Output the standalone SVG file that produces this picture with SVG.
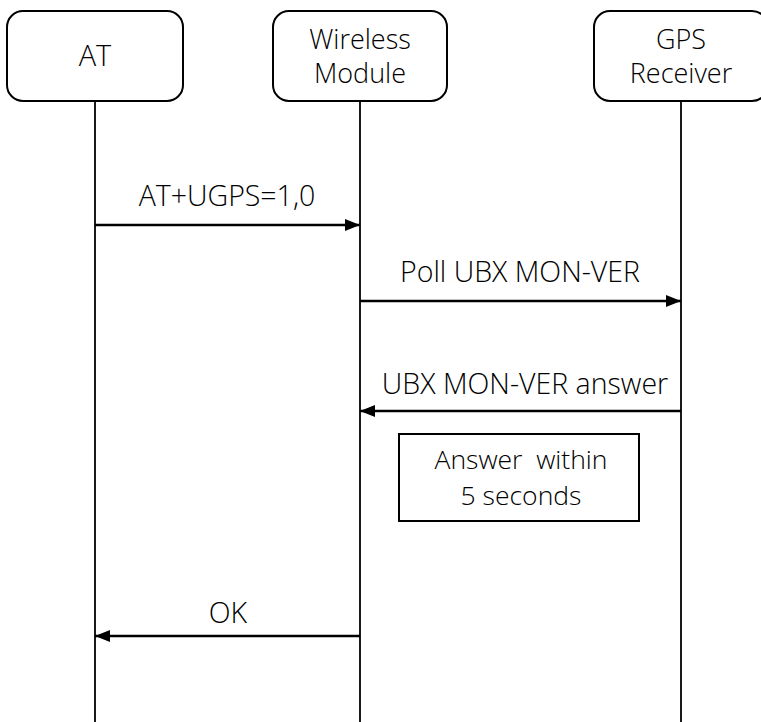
<svg xmlns="http://www.w3.org/2000/svg" width="761" height="722" viewBox="0 0 761 722">
  <style>
    text { font-family: "Open Sans", "Noto Sans", "DejaVu Sans", sans-serif; font-size: 28.5px; font-weight: 300; fill: #000; text-anchor: middle; }
    .actor { fill: #fff; stroke: #000; stroke-width: 2; }
    .life { stroke: #000; stroke-width: 1.8; fill: none; }
    .msg { stroke: #000; stroke-width: 2.5; fill: none; marker-end: url(#head); }
    .note { fill: #fff; stroke: #000; stroke-width: 2; }
    .small { font-size: 27px; }
    .note-text { font-size: 26.5px; }
  </style>
  <defs>
    <marker id="head" viewBox="0 0 15 12" refX="15" refY="6" markerWidth="15" markerHeight="12" markerUnits="userSpaceOnUse" orient="auto">
      <path d="M0,0 L15,6 L0,12 Z" fill="#000"/>
    </marker>
  </defs>

  <g id="lifelines">
    <line class="life" x1="95" y1="101" x2="95" y2="722"/>
    <line class="life" x1="360" y1="101" x2="360" y2="722"/>
    <line class="life" x1="681" y1="101" x2="681" y2="722"/>
  </g>

  <g id="actor-at">
    <rect class="actor" x="7" y="11" width="176" height="90" rx="16"/>
    <text x="95" y="66" style="font-size:29px">AT</text>
  </g>
  <g id="actor-module">
    <rect class="actor" x="273" y="11" width="174" height="90" rx="16"/>
    <text class="small" x="360" y="49">Wireless</text>
    <text class="small" x="360" y="83">Module</text>
  </g>
  <g id="actor-gps">
    <rect class="actor" x="594" y="11" width="174" height="90" rx="16"/>
    <text class="small" x="681" y="49">GPS</text>
    <text class="small" x="681" y="83">Receiver</text>
  </g>

  <g id="connectors">
    <line class="msg" x1="95" y1="225" x2="360" y2="225"/>
    <line class="msg" x1="360" y1="301" x2="681" y2="301"/>
    <line class="msg" x1="681" y1="411" x2="360" y2="411"/>
    <line class="msg" x1="360" y1="636" x2="95" y2="636"/>
  </g>

  <g id="labels">
    <text x="227" y="206">AT+UGPS=1,0</text>
    <text x="520" y="282">Poll UBX MON-VER</text>
    <text x="525" y="394">UBX MON-VER answer</text>
    <text x="228" y="623">OK</text>
  </g>

  <g id="note-timeout">
    <rect class="note" x="399" y="434" width="240" height="87"/>
    <text class="note-text" x="521" y="469" xml:space="preserve">Answer  within</text>
    <text class="note-text" x="521" y="505">5 seconds</text>
  </g>
</svg>
